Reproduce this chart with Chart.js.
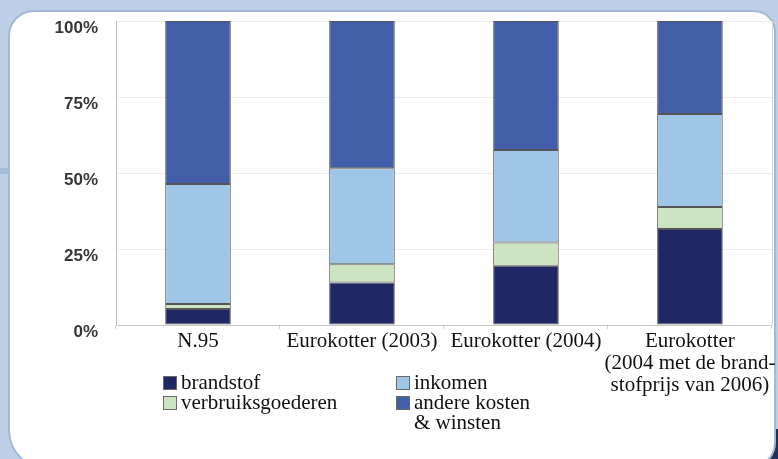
<!DOCTYPE html>
<html lang="nl">
<head>
    <meta charset="UTF-8">
    <title>Kostenverdeling Eurokotter</title>
    <script src="https://cdn.jsdelivr.net/npm/chart.js@4.4.0/dist/chart.umd.min.js"></script>
    <style>
        body {
            margin: 0;
            width: 778px;
            height: 459px;
            overflow: hidden;
            position: relative;
            background: #bdd0e8;
        }
        .band {
            position: absolute;
            left: 0;
            top: 168px;
            width: 10px;
            height: 6px;
            background: #a8bcd9;
        }
        .corner {
            position: absolute;
            right: 0;
            bottom: 0;
            width: 30px;
            height: 30px;
            background: #233055;
        }
        .panel {
            position: absolute;
            left: 8px;
            top: 10px;
            width: 764px;
            height: 456px;
            background: #fff;
            border: 2px solid #a3b8d7;
            border-radius: 26px 22px 28px 40px;
        }
        #chart {
            position: absolute;
            left: 0;
            top: 0;
        }
        .legend-col {
            position: absolute;
            top: 372px;
            font-family: "Liberation Serif", "Times New Roman", serif;
            font-size: 21px;
            line-height: 20px;
            color: #111;
        }
        .legend-item {
            position: relative;
            padding-left: 18px;
        }
        .legend-item .box {
            position: absolute;
            left: 0;
            top: 4px;
            width: 12px;
            height: 12px;
            border: 1px solid #6a6a6a;
        }
    </style>
</head>
<body>
    <div class="band"></div>
    <div class="corner"></div>
    <div class="panel"></div>
    <canvas id="chart" width="778" height="459"></canvas>
    <div class="legend-col" id="legendLeft" style="left:163px"></div>
    <div class="legend-col" id="legendRight" style="left:396px"></div>

    <script>
        const categories = ['N.95', 'Eurokotter (2003)', 'Eurokotter (2004)',
            ['Eurokotter', '(2004 met de brand-', 'stofprijs van 2006)']];
        const seriesNames = ['brandstof', 'verbruiksgoederen', 'inkomen', 'andere kosten\n& winsten'];
        const brandstof = [5.3, 14.0, 19.5, 31.6];
        const verbruiksgoederen = [1.6, 6.0, 7.6, 7.2];
        const inkomen = [39.5, 31.6, 30.5, 30.6];
        const andereKosten = [53.6, 48.4, 42.4, 30.6];
        const yTicks = [0, 25, 50, 75, 100];

        const seriesColors = ['#1f2864', '#cde4c2', '#9fc5e7', '#425ea8'];
        const seriesData = [brandstof, verbruiksgoederen, inkomen, andereKosten];

        // right edge of the plot frame
        const frameLine = {
            id: 'frameLine',
            beforeDatasetsDraw(chart) {
                const { ctx, chartArea } = chart;
                ctx.save();
                ctx.strokeStyle = '#d2d2d2';
                ctx.lineWidth = 1;
                ctx.beginPath();
                ctx.moveTo(chartArea.right + 0.5, chartArea.top);
                ctx.lineTo(chartArea.right + 0.5, chartArea.bottom);
                ctx.stroke();
                ctx.restore();
            }
        };

        new Chart(document.getElementById('chart'), {
            type: 'bar',
            data: {
                labels: categories,
                datasets: seriesNames.map((name, i) => ({
                    label: name,
                    data: seriesData[i],
                    backgroundColor: seriesColors[i],
                    borderColor: '#555',
                    borderWidth: 1,
                    borderSkipped: false,
                    categoryPercentage: 1,
                    barPercentage: 0.4
                }))
            },
            options: {
                responsive: false,
                animation: false,
                layout: { padding: { left: 0, top: 21, right: 5, bottom: 0 } },
                plugins: {
                    legend: { display: false },
                    tooltip: { enabled: false }
                },
                scales: {
                    x: {
                        stacked: true,
                        grid: {
                            drawOnChartArea: false,
                            color: '#d0d0d0',
                            tickLength: 4
                        },
                        border: { color: '#c8c8c8' },
                        ticks: {
                            padding: 2,
                            color: '#111',
                            maxRotation: 0,
                            autoSkip: false,
                            font: { family: '"Liberation Serif"', size: 21, lineHeight: 1.04 }
                        },
                        afterFit(scale) { scale.height = 134; }
                    },
                    y: {
                        stacked: true,
                        min: 0,
                        max: 100,
                        afterBuildTicks(scale) {
                            scale.ticks = yTicks.map(v => ({ value: v }));
                        },
                        grid: { color: '#ececec', drawTicks: false },
                        border: { color: '#bcbcbc' },
                        ticks: {
                            padding: 18,
                            labelOffset: 7,
                            color: '#363636',
                            font: { family: '"Liberation Sans"', size: 17, weight: 'bold' },
                            callback: v => v + '%'
                        },
                        afterFit(scale) {
                            scale.width = 116;
                            scale.paddingTop = 0;
                            scale.paddingBottom = 0;
                        }
                    }
                }
            },
            plugins: [frameLine]
        });

        // two-column legend underneath the axis
        function legendItem(i) {
            const item = document.createElement('div');
            item.className = 'legend-item';
            const box = document.createElement('span');
            box.className = 'box';
            box.style.background = seriesColors[i];
            item.appendChild(box);
            seriesNames[i].split('\n').forEach((line, j) => {
                if (j > 0) item.appendChild(document.createElement('br'));
                item.appendChild(document.createTextNode(line));
            });
            return item;
        }
        const left = document.getElementById('legendLeft');
        const right = document.getElementById('legendRight');
        left.appendChild(legendItem(0));
        left.appendChild(legendItem(1));
        right.appendChild(legendItem(2));
        right.appendChild(legendItem(3));
    </script>
</body>
</html>
